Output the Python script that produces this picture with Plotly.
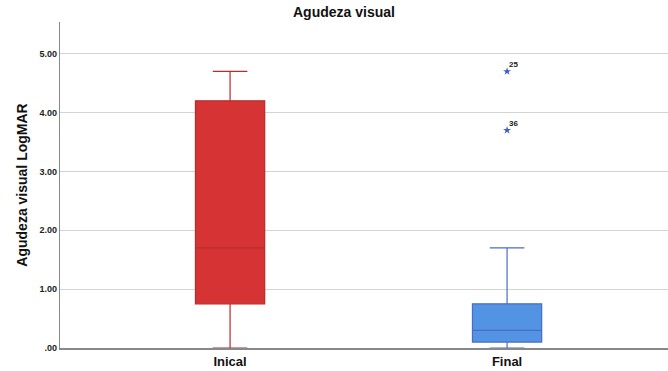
import plotly.graph_objects as go

categories = ["Inical", "Final"]
q1 = [0.75, 0.10]
median = [1.70, 0.30]
q3 = [4.20, 0.75]
lower = [0.00, 0.00]
upper = [4.70, 1.70]
fill_colors = ["#D63434", "#5393E3"]
line_colors = ["#B52C2C", "#4A6DC4"]

outlier_cat = [1, 1]
outlier_vals = [4.70, 3.70]
outlier_labels = ["25", "36"]

tick_vals = [0, 1, 2, 3, 4, 5]
tick_text = [".00", "1.00", "2.00", "3.00", "4.00", "5.00"]

fig = go.Figure()
for i, c in enumerate(categories):
    fig.add_trace(go.Box(
        x=[i], q1=[q1[i]], median=[median[i]], q3=[q3[i]],
        lowerfence=[lower[i]], upperfence=[upper[i]],
        width=0.25, whiskerwidth=0.5,
        fillcolor=fill_colors[i],
        line=dict(color=line_colors[i], width=1.2),
        boxpoints=False, showlegend=False, hoverinfo="skip",
    ))

fig.add_trace(go.Scatter(
    x=outlier_cat, y=outlier_vals, mode="markers",
    marker=dict(symbol="star", size=6, color="#3D5FC4"),
    showlegend=False, hoverinfo="skip",
))
for xv, yv, lab in zip(outlier_cat, outlier_vals, outlier_labels):
    fig.add_annotation(x=xv, y=yv, text=lab, showarrow=False,
                       xanchor="left", yanchor="bottom", xshift=0, yshift=0,
                       font=dict(size=8, color="#222", family="Liberation Sans, Arial",
                                 weight="bold"))

fig.update_layout(
    width=668, height=371,
    margin=dict(l=60, r=0, t=22, b=23),
    plot_bgcolor="white", paper_bgcolor="white",
    font=dict(family="Liberation Sans, Arial", color="#222"),
    annotations=list(fig.layout.annotations) + [dict(
        text="<b>Agudeza visual</b>", xref="paper", yref="paper",
        x=0.467, y=1, yshift=0, xanchor="center", yanchor="bottom",
        showarrow=False, font=dict(size=14, color="#111"))],
)
fig.update_xaxes(
    range=[-0.614, 1.581], tickvals=[0, 1], ticktext=["<b>" + c + "</b>" for c in categories],
    showgrid=False, zeroline=False, showline=True, linecolor="#888", linewidth=2,
    ticks="", tickfont=dict(size=13, color="#111"),
)
fig.update_yaxes(
    range=[0, 5.54], tickvals=tick_vals, ticktext=["<b>" + t + "</b>" for t in tick_text],
    showgrid=True, gridcolor="#D3D3D3", gridwidth=1, zeroline=False,
    showline=True, linecolor="#888", linewidth=1.2, ticks="",
    tickfont=dict(size=9, color="#222"),
    title=dict(text="<b>Agudeza visual LogMAR</b>", font=dict(size=14, color="#111"), standoff=8),
)

fig.write_html("out.html")
